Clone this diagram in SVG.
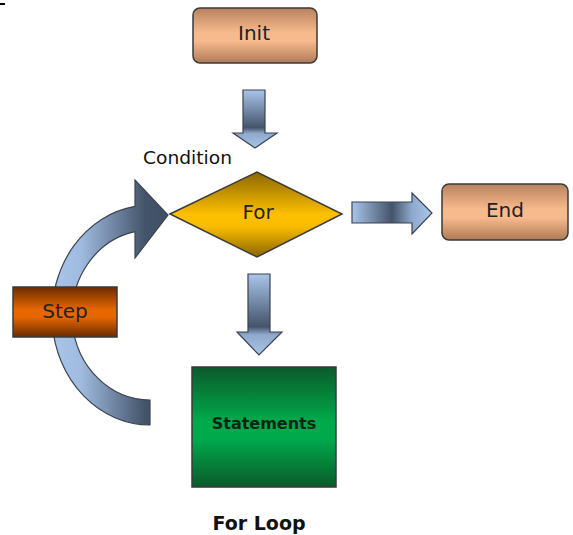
<svg xmlns="http://www.w3.org/2000/svg" width="573" height="535" viewBox="0 0 573 535">
<defs>
<linearGradient id="gPeach" x1="0" y1="0" x2="0" y2="1">
<stop offset="0" stop-color="#b8825f"/><stop offset="0.45" stop-color="#f7ba8c"/><stop offset="0.6" stop-color="#f7ba8c"/><stop offset="1" stop-color="#b07a58"/>
</linearGradient>
<linearGradient id="gGold" x1="0" y1="0" x2="0" y2="1">
<stop offset="0" stop-color="#8a6600"/><stop offset="0.5" stop-color="#ffc000"/><stop offset="0.65" stop-color="#f8bb00"/><stop offset="1" stop-color="#8a6600"/>
</linearGradient>
<linearGradient id="gOrange" x1="0" y1="0" x2="0" y2="1">
<stop offset="0" stop-color="#6a2c00"/><stop offset="0.45" stop-color="#e66600"/><stop offset="0.6" stop-color="#e66600"/><stop offset="1" stop-color="#6a2c00"/>
</linearGradient>
<linearGradient id="gGreen" x1="0" y1="0" x2="0" y2="1">
<stop offset="0" stop-color="#0b5a2a"/><stop offset="0.45" stop-color="#00a94c"/><stop offset="0.6" stop-color="#00a94c"/><stop offset="1" stop-color="#0b5a2a"/>
</linearGradient>
<linearGradient id="gDown1" gradientUnits="userSpaceOnUse" x1="0" y1="90" x2="0" y2="148">
<stop offset="0" stop-color="#a9c5ea"/><stop offset="0.65" stop-color="#44546a"/><stop offset="0.75" stop-color="#8ea9cc"/><stop offset="1" stop-color="#a9c5ea"/>
</linearGradient>
<linearGradient id="gDown2" gradientUnits="userSpaceOnUse" x1="0" y1="274" x2="0" y2="355">
<stop offset="0" stop-color="#a9c5ea"/><stop offset="0.65" stop-color="#44546a"/><stop offset="0.75" stop-color="#8ea9cc"/><stop offset="1" stop-color="#a9c5ea"/>
</linearGradient>
<linearGradient id="gRight" gradientUnits="userSpaceOnUse" x1="352" y1="0" x2="432" y2="0">
<stop offset="0" stop-color="#a9c5ea"/><stop offset="0.5" stop-color="#44546a"/><stop offset="0.75" stop-color="#8ea9cc"/><stop offset="1" stop-color="#a9c5ea"/>
</linearGradient>
<linearGradient id="gCurve" gradientUnits="userSpaceOnUse" x1="52" y1="0" x2="168" y2="0">
<stop offset="0" stop-color="#a9c5ea"/><stop offset="0.25" stop-color="#a0bbdf"/><stop offset="0.8" stop-color="#44546a"/><stop offset="1" stop-color="#3f4f64"/>
</linearGradient>
<style>
.box{stroke:#3a3a3a;stroke-width:1.5}
.arr{stroke:#3a4350;stroke-width:1.2;stroke-linejoin:miter}
.lbl{font-family:"DejaVu Sans",sans-serif;font-size:20px;fill:#1f2228;text-anchor:middle}
</style>
</defs>
<rect x="0" y="3" width="5" height="2" fill="#000"/>
<g id="connectors">
<path class="arr" fill="url(#gDown1)" d="M243,90 L265,90 L265,133 L277,133 L255,148 L233,133 L243,133 Z"/>
<path class="arr" fill="url(#gRight)" d="M352,202 L412,202 L412,193 L432,213 L412,234 L412,223 L352,223 Z"/>
<path class="arr" fill="url(#gDown2)" d="M248,274 L270,274 L270,332 L282,332 L259,355 L237,332 L248,332 Z"/>
<path class="arr" fill="url(#gCurve)" d="M150,425 A98,110 0 0 1 135,206.3 L135,180 L168,215 L135,258 L135,231.6 A78,85 0 0 0 150,400 Z"/>
</g>
<g id="init">
<rect class="box" x="193" y="8" width="124" height="55" rx="7" fill="url(#gPeach)"/>
<text class="lbl" x="254" y="40">Init</text>
</g>
<g id="condition-label">
<text x="143" y="164" font-family="DejaVu Sans, sans-serif" font-size="17" fill="#111" textLength="89" lengthAdjust="spacingAndGlyphs">Condition</text>
</g>
<g id="for">
<polygon class="box" points="170,214 257,172 342,214 257,257" fill="url(#gGold)"/>
<text class="lbl" x="258" y="219">For</text>
</g>
<g id="end">
<rect class="box" x="442" y="184" width="126" height="56" rx="7" fill="url(#gPeach)"/>
<text class="lbl" x="505" y="217">End</text>
</g>
<g id="step">
<rect class="box" x="13" y="287" width="104" height="50" fill="url(#gOrange)"/>
<text class="lbl" x="65" y="318">Step</text>
</g>
<g id="statements">
<rect class="box" x="192" y="367" width="144" height="120" fill="url(#gGreen)"/>
<text x="264" y="429" font-family="DejaVu Sans, sans-serif" font-size="16" font-weight="bold" fill="#0c2414" text-anchor="middle">Statements</text>
</g>
<g id="title">
<text x="259" y="530" font-family="DejaVu Sans, sans-serif" font-size="19" font-weight="bold" fill="#111" text-anchor="middle">For Loop</text>
</g>
</svg>
